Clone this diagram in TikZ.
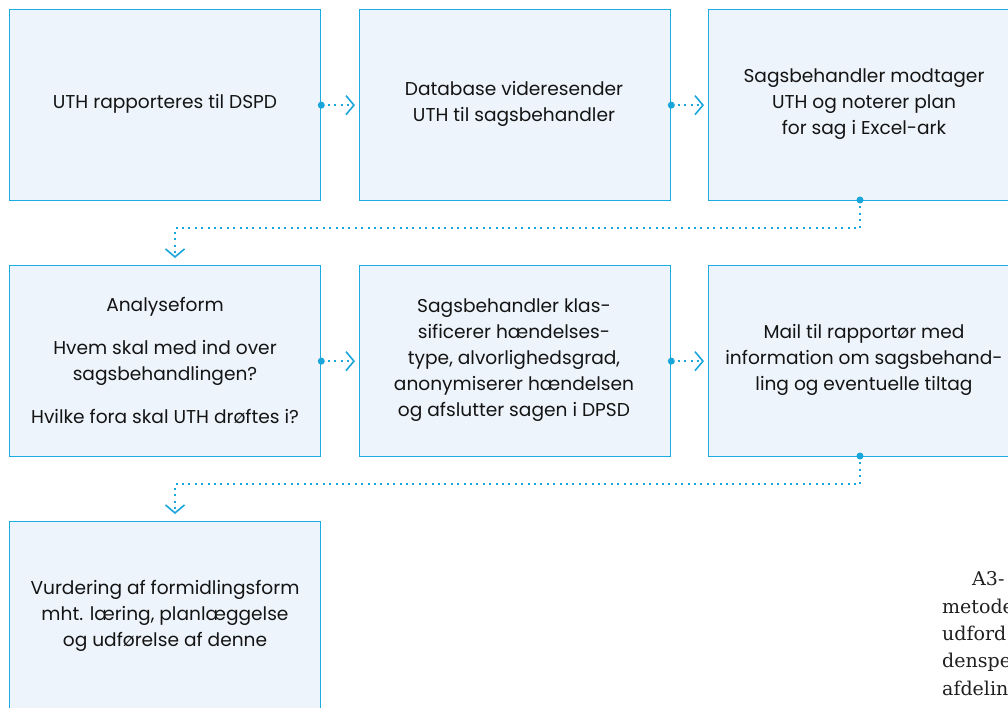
\documentclass[tikz,border=0pt]{standalone}
\usepackage{fontspec}
\setmainfont{Poppins}
\newfontfamily\bodyserif{DejaVu Serif}
\usetikzlibrary{arrows.meta}
\definecolor{boxfill}{HTML}{EDF4FB}
\definecolor{boxline}{HTML}{1CACE0}
\definecolor{flowline}{HTML}{1AA6DA}
\tikzset{
  x=1pt, y=-1pt,
  stepbox/.style={draw=boxline, line width=1.3pt, fill=boxfill,
    minimum width=311pt, minimum height=191pt, inner sep=0pt,
    anchor=north west},
  boxtext/.style={align=center, font=\fontsize{18.6}{26}\selectfont,
    text=black!92},
  flow/.style={draw=flowline, line width=2pt, dash pattern=on 2pt off 4.4pt,
    -{Straight Barb[length=8pt, width=19pt, line width=1.6pt]}},
  flowdot/.style={circle, fill=flowline, inner sep=0pt, minimum size=7pt}
}
\begin{document}
\begin{tikzpicture}
\useasboundingbox (0,0) rectangle (1008,708);
\clip (0,0) rectangle (1008,708);

% step boxes
\node[stepbox] (b1) at (9,9) {};
\node[stepbox] (b2) at (359,9) {};
\node[stepbox] (b3) at (708,9) {};
\node[stepbox] (b4) at (9,265) {};
\node[stepbox] (b5) at (359,265) {};
\node[stepbox] (b6) at (708,265) {};
\node[stepbox] (b7) at (9,521) {};

% texts
\node[boxtext] (t1) at (165,104) {UTH rapporteres til DSPD};
\node[boxtext] (t2) at (514,104) {Database videresender\\UTH til sagsbehandler};
\node[boxtext] (t3) at (864,104) {Sagsbehandler modtager\\UTH og noterer plan\\for sag i Excel-ark};
\node[boxtext] (t4) at (165,360) {Analyseform\\[17pt]Hvem skal med ind over\\sagsbehandlingen?\\[17pt]Hvilke fora skal UTH drøftes i?};
\node[boxtext] (t5) at (514,360) {Sagsbehandler klas-\\sificerer hændelses-\\type, alvorlighedsgrad,\\anonymiserer hændelsen\\og afslutter sagen i DPSD};
\node[boxtext] (t6) at (864,360) {Mail til rapportør med\\information om sagsbehand-\\ling og eventuelle tiltag};
\node[boxtext] (t7) at (165,616) {Vurdering af formidlingsform\\mht. læring, planlæggelse\\og udførelse af denne};

% connectors
\coordinate (s3) at (860,200);
\coordinate (e4) at (175,265);
\coordinate (s6) at (860,456);
\coordinate (e7) at (175,521);

\draw[flow, shorten >=4pt] (b1.east) -- (b2.west);
\draw[flow, shorten >=4pt] (b2.east) -- (b3.west);
\draw[flow, shorten >=4pt] (b4.east) -- (b5.west);
\draw[flow, shorten >=4pt] (b5.east) -- (b6.west);
\draw[flow, shorten >=7pt] (s3) -- ++(0,28) -| (e4);
\draw[flow, shorten >=7pt] (s6) -- ++(0,28) -| (e7);

\node[flowdot] at (b1.east) {};
\node[flowdot] at (b2.east) {};
\node[flowdot] at (b4.east) {};
\node[flowdot] at (b5.east) {};
\node[flowdot] at (s3) {};
\node[flowdot] at (s6) {};

% running text at the page edge (anchored on its last baseline)
\node[anchor=base west, align=left, inner sep=0pt,
  font=\bodyserif\fontsize{19}{27.3}\selectfont, text=black!88]
  (side) at (942,695) {\hspace*{30pt}A3-\\metode\\udford\\denspe\\afdelin};
\end{tikzpicture}
\end{document}
